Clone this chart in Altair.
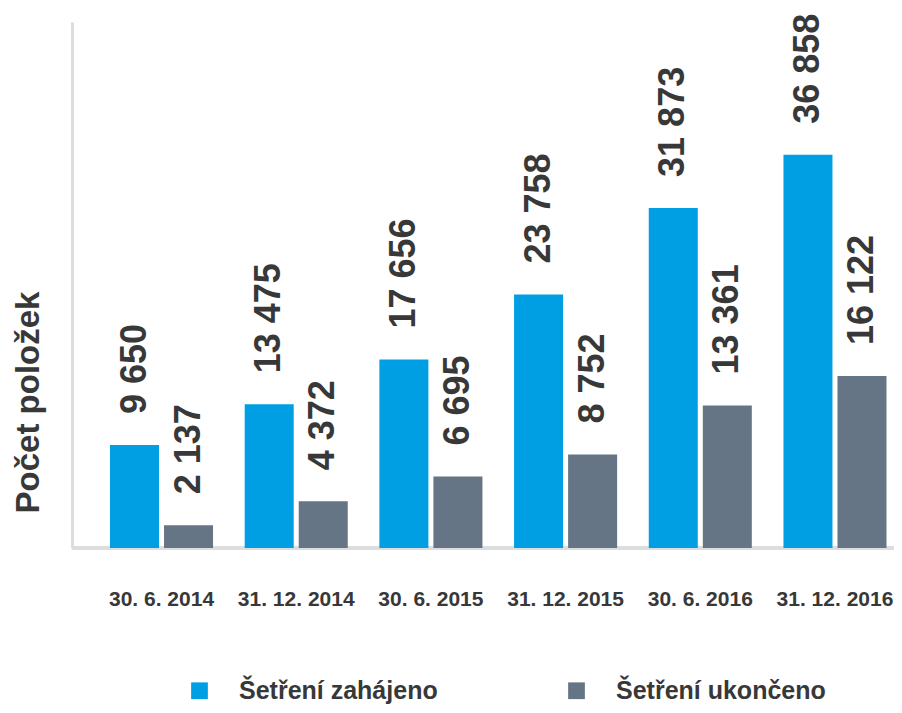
import altair as alt
import pandas as pd

dates = ["30. 6. 2014", "31. 12. 2014", "30. 6. 2015", "31. 12. 2015", "30. 6. 2016", "31. 12. 2016"]
series = ["Šetření zahájeno", "Šetření ukončeno"]
started = [9650, 13475, 17656, 23758, 31873, 36858]
closed = [2137, 4372, 6695, 8752, 13361, 16122]
colors = ["#009fe3", "#657585"]

rows = []
for d, s, c in zip(dates, started, closed):
    rows.append(dict(date=d, series=series[0], value=s))
    rows.append(dict(date=d, series=series[1], value=c))
df = pd.DataFrame(rows)
df["label"] = df["value"].map(lambda v: f"{v:,}".replace(",", " "))

W, H = 822, 526
FONT = "Liberation Sans"
TXT = "#383838"
AXC = "#dcdddf"

x = alt.X("date:N", sort=dates, title=None,
          scale=alt.Scale(range=[38, 814.5], paddingInner=0.235, paddingOuter=0, round=False),
          axis=alt.Axis(labelAngle=0, labelFont=FONT, labelFontSize=21, labelFontWeight="bold",
                        labelColor=TXT, ticks=False, tickSize=0, labelPadding=40,
                        domain=False, grid=False))
xo = alt.XOffset("series:N", sort=series,
                 scale=alt.Scale(paddingInner=0.093, paddingOuter=0, round=False))
y = alt.Y("value:Q", scale=alt.Scale(domain=[0, 49300], nice=False, zero=True),
          axis=alt.Axis(title="Počet položek", labels=False, ticks=False, tickSize=0, grid=False,
                        domainColor=AXC, domainWidth=3,
                        titleFont=FONT, titleFontSize=33, titleFontWeight="bold", titleColor=TXT,
                        titleAngle=270, titleAlign="center", titleBaseline="middle",
                        titleX=-44, titleY=380))
color = alt.Color("series:N", sort=series,
                  scale=alt.Scale(domain=series, range=colors),
                  legend=alt.Legend(orient="none", legendX=115, legendY=656, direction="horizontal",
                                    title=None, symbolType="square", symbolSize=280,
                                    symbolStrokeWidth=0, symbolOpacity=1,
                                    labelFont=FONT, labelFontSize=25, labelFontWeight="bold",
                                    labelColor=TXT, labelOffset=27, columnPadding=126,
                                    labelLimit=400))

base = alt.Chart(df)
xaxis_line = base.mark_rule(color=AXC, strokeWidth=3).encode(
    x=alt.value(0), x2=alt.value(W), y=alt.value(H))
bars = base.mark_bar(opacity=1).encode(x=x, xOffset=xo, y=y, color=color)
labels = base.mark_text(angle=270, align="left", baseline="middle", dx=31,
                        font=FONT, fontSize=36, fontWeight="bold", color=TXT).encode(
    x=alt.X("date:N", sort=dates), xOffset=alt.XOffset("series:N", sort=series),
    y=alt.Y("value:Q"), text="label:N")

chart = alt.layer(xaxis_line, bars, labels).properties(
    width=W, height=H,
    autosize=alt.AutoSizeParams(type="none"),
    padding={"left": 64, "top": 14, "right": 0, "bottom": 157},
).configure_view(stroke=None)

chart.save("out.html", embed_options={"renderer": "svg", "actions": False})
